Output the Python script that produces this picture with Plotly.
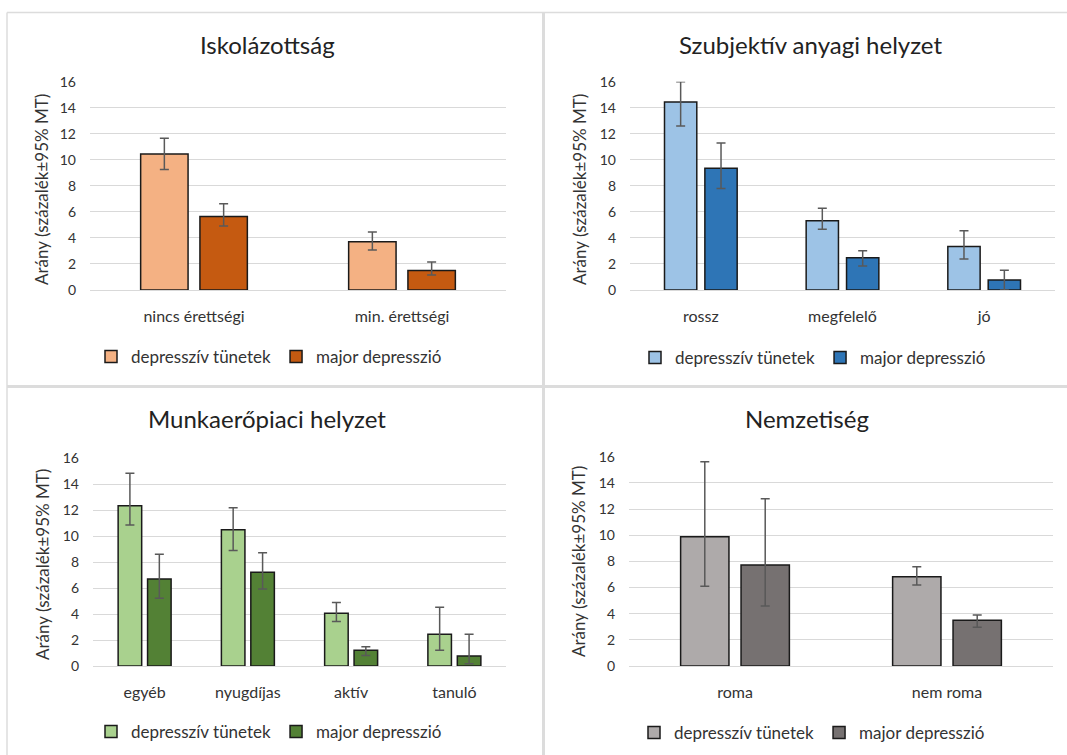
import plotly.graph_objects as go

# ---- data: prevalence (%) with 95% confidence interval bounds ----
series_names = ["depresszív tünetek", "major depresszió"]
y_ticks = [0, 2, 4, 6, 8, 10, 12, 14, 16]

isk_cats = ["nincs érettségi", "min. érettségi"]
isk_dt = [10.45, 3.7]
isk_dt_lo = [9.25, 3.07]
isk_dt_hi = [11.65, 4.45]
isk_md = [5.65, 1.5]
isk_md_lo = [4.92, 1.15]
isk_md_hi = [6.63, 2.15]

any_cats = ["rossz", "megfelelő", "jó"]
any_dt = [14.45, 5.32, 3.35]
any_dt_lo = [12.6, 4.66, 2.38]
any_dt_hi = [16.0, 6.27, 4.56]
any_md = [9.35, 2.48, 0.77]
any_md_lo = [7.8, 1.84, 0.0]
any_md_hi = [11.3, 3.02, 1.51]

mun_cats = ["egyéb", "nyugdíjas", "aktív", "tanuló"]
mun_dt = [12.35, 10.5, 4.06, 2.44]
mun_dt_lo = [10.86, 8.89, 3.42, 1.21]
mun_dt_hi = [14.84, 12.2, 4.9, 4.52]
mun_md = [6.7, 7.22, 1.21, 0.77]
mun_md_lo = [5.21, 5.93, 0.8, 0.18]
mun_md_hi = [8.6, 8.73, 1.49, 2.44]

nem_cats = ["roma", "nem roma"]
nem_dt = [9.89, 6.83]
nem_dt_lo = [6.09, 6.19]
nem_dt_hi = [15.62, 7.59]
nem_md = [7.72, 3.49]
nem_md_lo = [4.59, 2.96]
nem_md_hi = [12.79, 3.9]

W, H = 1067, 755
FONT = "Lato"
TXT = "#333333"
GRID = "#D9D9D9"


def px_x(v):
    return v / W


def px_y(v):
    return 1 - v / H


panels = [
    dict(title="Iskolázottság", cats=isk_cats,
         dt=(isk_dt, isk_dt_lo, isk_dt_hi), md=(isk_md, isk_md_lo, isk_md_hi),
         colors=("#F4B183", "#C55A11"),
         xd=(90, 506), yd=(81.7, 290), title_xy=(267, 45), ytitle_xy=(42, 190),
         legend_xy=(269, 357)),
    dict(title="Szubjektív anyagi helyzet", cats=any_cats,
         dt=(any_dt, any_dt_lo, any_dt_hi), md=(any_md, any_md_lo, any_md_hi),
         colors=("#9DC3E6", "#2E75B6"),
         xd=(630, 1055), yd=(81.7, 290), title_xy=(810, 45), ytitle_xy=(580, 190),
         legend_xy=(813, 358)),
    dict(title="Munkaerőpiaci helyzet", cats=mun_cats,
         dt=(mun_dt, mun_dt_lo, mun_dt_hi), md=(mun_md, mun_md_lo, mun_md_hi),
         colors=("#A9D18E", "#538135"),
         xd=(93, 506), yd=(458.3, 666), title_xy=(267, 418), ytitle_xy=(42, 565),
         legend_xy=(269, 732)),
    dict(title="Nemzetiség", cats=nem_cats,
         dt=(nem_dt, nem_dt_lo, nem_dt_hi), md=(nem_md, nem_md_lo, nem_md_hi),
         colors=("#AEAAAA", "#767171"),
         xd=(629, 1053), yd=(456.7, 666), title_xy=(807, 418), ytitle_xy=(578, 562),
         legend_xy=(812, 733)),
]

fig = go.Figure()
annotations = []
layout_extra = {}

for i, p in enumerate(panels, start=1):
    sfx = "" if i == 1 else str(i)
    leg = "legend" if i == 1 else f"legend{i}"
    for (vals, lo, hi), name, color in zip((p["dt"], p["md"]), series_names, p["colors"]):
        fig.add_trace(go.Bar(
            x=p["cats"], y=vals, name=name,
            xaxis="x" + sfx, yaxis="y" + sfx, legend=leg,
            marker=dict(color=color, line=dict(color="#1a1a1a", width=1.5)),
            error_y=dict(type="data", symmetric=False,
                         array=[h - v for h, v in zip(hi, vals)],
                         arrayminus=[v - l for v, l in zip(vals, lo)],
                         color="#595959", thickness=1.5, width=4.5),
        ))
    layout_extra["xaxis" + sfx] = dict(
        domain=[px_x(p["xd"][0]), px_x(p["xd"][1])], anchor="y" + sfx,
        showgrid=False, showline=True, linecolor=GRID, linewidth=1,
        ticks="", ticklabelstandoff=12,
        tickfont=dict(family=FONT, size=16, color=TXT), fixedrange=True,
    )
    layout_extra["yaxis" + sfx] = dict(
        domain=[px_y(p["yd"][1]), px_y(p["yd"][0])], anchor="x" + sfx,
        range=[0, 16], tickvals=y_ticks, showgrid=True, gridcolor=GRID, gridwidth=1,
        zeroline=False, showline=False, ticks="", ticklabelstandoff=13,
        tickfont=dict(family=FONT, size=14, color=TXT), fixedrange=True,
    )
    layout_extra[leg] = dict(
        orientation="h", x=px_x(p["legend_xy"][0]), y=px_y(p["legend_xy"][1]),
        xanchor="center", yanchor="middle", itemwidth=30, traceorder="normal",
        font=dict(family=FONT, size=17, color=TXT), bgcolor="rgba(0,0,0,0)",
    )
    annotations.append(dict(
        text=p["title"], x=px_x(p["title_xy"][0]), y=px_y(p["title_xy"][1]),
        xref="paper", yref="paper", showarrow=False, xanchor="center", yanchor="middle",
        font=dict(family=FONT, size=24, color="#222222"),
    ))
    annotations.append(dict(
        text="Arány (százalék±95% MT)", x=px_x(p["ytitle_xy"][0]), y=px_y(p["ytitle_xy"][1]),
        xref="paper", yref="paper", showarrow=False, textangle=-90,
        xanchor="center", yanchor="middle",
        font=dict(family=FONT, size=17, color=TXT),
    ))

# panel frames and dividers
border = dict(color="#DCDCDC")
shapes = [
    dict(type="line", xref="paper", yref="paper", x0=px_x(7), x1=1, y0=px_y(12.5), y1=px_y(12.5),
         line=dict(width=1.5, **border)),
    dict(type="line", xref="paper", yref="paper", x0=px_x(7), x1=px_x(7), y0=0, y1=px_y(12.5),
         line=dict(width=1.5, **border)),
    dict(type="line", xref="paper", yref="paper", x0=px_x(543.5), x1=px_x(543.5), y0=0, y1=px_y(12.5),
         line=dict(width=3, **border)),
    dict(type="line", xref="paper", yref="paper", x0=px_x(7), x1=1, y0=px_y(386.5), y1=px_y(386.5),
         line=dict(width=3, **border)),
]

fig.update_layout(
    width=W, height=H, margin=dict(l=0, r=0, t=0, b=0, autoexpand=False),
    paper_bgcolor="white", plot_bgcolor="white",
    barmode="group", bargap=0.43, bargroupgap=0.2,
    annotations=annotations, shapes=shapes,
    font=dict(family=FONT, color=TXT),
    **layout_extra,
)

fig.write_html("out.html")
